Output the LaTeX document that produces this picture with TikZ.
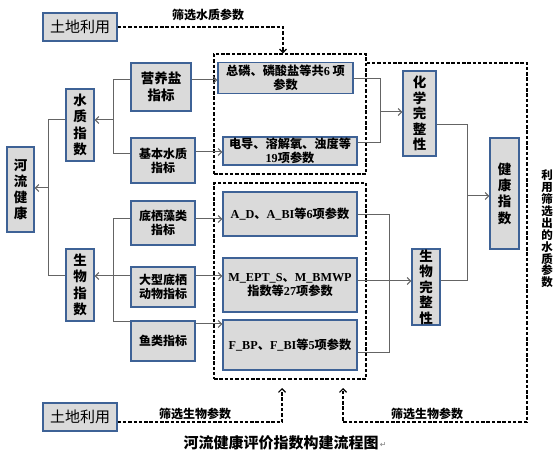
\documentclass[tikz,border=0pt]{standalone}
\usepackage{fontspec}
\setmainfont{Noto Sans CJK SC}
\newfontfamily\lat{Liberation Serif}
\newfontfamily\symf{DejaVu Sans}
\usetikzlibrary{arrows.meta,calc}
\definecolor{boxfill}{RGB}{218,218,218}
\definecolor{boxline}{RGB}{62,98,150}
\definecolor{conline}{RGB}{100,100,100}
\tikzset{
  basebox/.style={draw=boxline, fill=boxfill, line width=1.3pt, inner sep=0pt, align=center},
  landbox/.style={basebox, minimum width=74, minimum height=28, font=\fontsize{15}{17}\selectfont},
  catbox/.style={basebox, font=\bfseries\fontsize{12}{14}\selectfont},
  vertbox/.style={basebox, font=\bfseries\fontsize{13.5}{16.3}\selectfont},
  parambox/.style={basebox, font=\bfseries\fontsize{12.2}{13.5}\selectfont},
  dbox/.style={draw=black, line width=1.2pt, dash pattern=on 3.5pt off 1.8pt, inner sep=0pt},
  conn/.style={draw=conline, line width=1pt},
  arr/.style={conn, -{Straight Barb[length=3.5pt,width=7pt]}},
  dline/.style={draw=black, line width=1.2pt, dash pattern=on 3.5pt off 1.8pt},
  darr/.style={dline, -{Straight Barb[length=3.5pt,width=7pt]}},
  lbl/.style={inner sep=0pt, font=\bfseries\fontsize{12}{14}\selectfont},
}
\begin{document}
\begin{tikzpicture}[x=1pt,y=-1pt]
\useasboundingbox (0,0) rectangle (560,457);
\fill[white] (0,0) rectangle (560,457);

% dashed group boxes
\node[dbox, minimum width=152, minimum height=120] (d1) at (290,114) {};
\node[dbox, minimum width=152, minimum height=196] (d2) at (290,281) {};

% land use boxes
\node[landbox] (land1) at (80,27) {土地利用};
\node[landbox] (land2) at (80,417) {土地利用};

% left vertical boxes
\node[vertbox, minimum width=27, minimum height=85] (heliu) at (20.5,189.5) {河\\流\\健\\康};
\node[vertbox, minimum width=28, minimum height=72] (shuizhi) at (80,125) {水\\质\\指\\数};
\node[vertbox, minimum width=28, minimum height=72] (shengwu) at (80,285) {生\\物\\指\\数};

% category boxes
\node[catbox, minimum width=60, minimum height=48, font=\bfseries\fontsize{13.5}{17}\selectfont] (yingyang) at (161,87) {营养盐\\指标};
\node[catbox, minimum width=64, minimum height=45] (jiben) at (163,160.5) {基本水质\\指标};
\node[catbox, minimum width=64, minimum height=44] (diqi) at (163,223) {底栖藻类\\指标};
\node[catbox, minimum width=64, minimum height=40] (daxing) at (163,287) {大型底栖\\动物指标};
\node[catbox, minimum width=64, minimum height=40] (yulei) at (163,341) {鱼类指标};

% parameter boxes
\node[parambox, minimum width=135, minimum height=31] (zonglin) at (285.5,78) {总磷、磷酸盐等共{\lat\bfseries 6} 项\\参数};
\node[parambox, minimum width=134, minimum height=28] (diandao) at (290,151) {电导、溶解氧、浊度等\\{\lat\bfseries 19}项参数};
\node[parambox, minimum width=134, minimum height=44] (AD) at (290,214) {{\lat\bfseries A\_D}、{\lat\bfseries A\_BI}等{\lat\bfseries 6}项参数};
\node[parambox, minimum width=134, minimum height=54] (MEPT) at (290,285) {{\lat\bfseries M\_EPT\_S}、{\lat\bfseries M\_BMWP}\\指数等{\lat\bfseries 27}项参数};
\node[parambox, minimum width=134, minimum height=50] (FBP) at (290,345) {{\lat\bfseries F\_BP}、{\lat\bfseries F\_BI}等{\lat\bfseries 5}项参数};

% integrity and health boxes
\node[vertbox, minimum width=33, minimum height=85, font=\bfseries\fontsize{13.5}{15.5}\selectfont] (huaxue) at (419.5,113.5) {化\\学\\完\\整\\性};
\node[vertbox, minimum width=28, minimum height=76, font=\bfseries\fontsize{13.5}{15.5}\selectfont] (swwz) at (426,287) {生\\物\\完\\整\\性};
\node[vertbox, minimum width=29, minimum height=111] (jiankang) at (504.5,193.5) {健\\康\\指\\数};

% left tree connectors
\draw[conn] (shuizhi.west |- 0,120) -| (48,276) -- (shengwu.west |- 0,276);
\draw[arr] (48,188) -- (heliu.east |- 0,188);
\draw[conn] (yingyang.west |- 0,80) -| (113,154) -- (jiben.west |- 0,154);
\draw[arr] (113,120) -- (shuizhi.east |- 0,120);
\draw[conn] (diqi.west |- 0,219) -| (113,322) -- (yulei.west |- 0,322);
\draw[arr] (daxing.west |- 0,276) -- (shengwu.east |- 0,276);

% category -> parameter
\draw[arr] (yingyang.east |- 0,80) -- (zonglin.west |- 0,80);
\draw[arr] (jiben.east |- 0,152) -- (diandao.west |- 0,152);
\draw[arr] (diqi.east |- 0,219) -- (AD.west |- 0,219);
\draw[arr] (daxing.east |- 0,276) -- (MEPT.west |- 0,276);
\draw[arr] (yulei.east |- 0,324) -- (FBP.west |- 0,324);

% parameter -> integrity
\draw[conn] (zonglin.east |- 0,79) -| (380,143) -- (diandao.east |- 0,143);
\draw[arr] (380,112) -- (huaxue.west |- 0,112);
\draw[conn] (AD.east |- 0,215) -| (389,352) -- (FBP.east |- 0,352);
\draw[arr] (MEPT.east |- 0,281) -- (swwz.west |- 0,281);
\draw[conn] (huaxue.east |- 0,125) -| (467,281) -- (swwz.east |- 0,281);
\draw[arr] (467,196) -- (jiankang.west |- 0,196);

% dashed feedback lines
\draw[darr] (land1.east) -| (d1.north -| 283,0);
\node[lbl] (l1) at (208,15) {筛选水质参数};
\draw[darr] (land2.east |- 0,422) -| (282,388);
\node[lbl] (l2) at (195,414) {筛选生物参数};
\draw[darr] (d1.east |- 0,63) -| (527,422) -| (343,388);
\node[lbl] (l3) at (427,414) {筛选生物参数};
\node[lbl, align=center, font=\bfseries\fontsize{11.5}{11.9}\selectfont] (l4) at (547,229) {利\\用\\筛\\选\\出\\的\\水\\质\\参\\数};

% caption
\node[inner sep=0pt, font=\bfseries\fontsize{15}{17}\selectfont] (cap) at (281,443) {河流健康评价指数构建流程图};
\node[inner sep=0pt, anchor=west, text=gray, font=\symf\fontsize{8}{9}\selectfont] (ret) at ([xshift=1pt,yshift=-2pt]cap.east) {↵};
\end{tikzpicture}
\end{document}
